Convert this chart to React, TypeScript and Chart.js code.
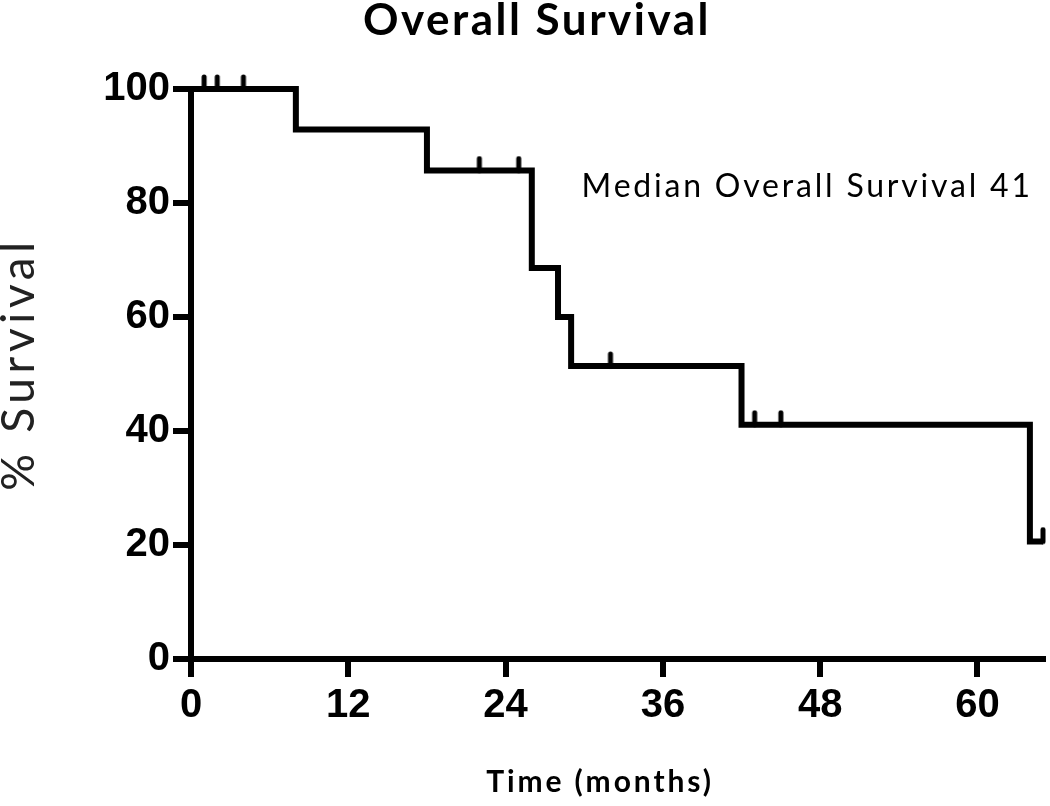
import React, { useEffect, useRef } from "react";
import { Chart, registerables } from "chart.js";

Chart.register(...registerables);

const stepTimes = [0, 8, 18, 26, 28, 29, 42, 64, 65];
const stepSurvival = [100, 92.9, 85.7, 68.6, 60.0, 51.4, 41.1, 20.6, 20.6];
const censorTimes = [1, 2, 4, 22, 25, 32, 43, 45, 65];
const censorSurvival = [100, 100, 100, 85.7, 85.7, 51.4, 41.1, 41.1, 20.6];
const xTickValues = [0, 12, 24, 36, 48, 60];
const yTickValues = [0, 20, 40, 60, 80, 100];

const titleText = "Overall Survival";
const annotationText = "Median Overall Survival 41";
const xTitleText = "Time (months)";
const yTitleText = "% Survival";

export default function App() {
  const ref = useRef<HTMLCanvasElement | null>(null);

  useEffect(() => {
    document.body.style.margin = "0";
    const canvas = ref.current;
    if (!canvas) return;

    const mark = document.createElement("canvas");
    mark.width = 8;
    mark.height = 30;
    const mctx = mark.getContext("2d")!;
    mctx.strokeStyle = "#000";
    mctx.lineWidth = 5;
    mctx.lineCap = "round";
    mctx.beginPath();
    mctx.moveTo(4, 3);
    mctx.lineTo(4, 15);
    mctx.stroke();

    const textPlugin = {
      id: "texts",
      afterDraw(chart: any) {
        const ctx = chart.ctx;
        const xs = chart.scales.x;
        const ys = chart.scales.y;
        ctx.save();
        ctx.fillStyle = "#000";
        ctx.textBaseline = "alphabetic";
        // title
        ctx.font = "bold 44px Lato";
        ctx.letterSpacing = "2.5px";
        ctx.textAlign = "center";
        ctx.fillText(titleText, 537, 35);
        // annotation
        ctx.font = "32px Lato";
        ctx.letterSpacing = "2.8px";
        ctx.textAlign = "left";
        ctx.fillText(annotationText, xs.getPixelForValue(29.8), ys.getPixelForValue(81));
        // x title
        ctx.font = "bold 30px Lato";
        ctx.letterSpacing = "2.9px";
        ctx.textAlign = "center";
        ctx.fillText(xTitleText, 600, 792);
        // y title
        ctx.save();
        ctx.translate(34, 364);
        ctx.rotate(-Math.PI / 2);
        ctx.font = "46px Lato";
        ctx.letterSpacing = "4.6px";
        ctx.fillStyle = "#222";
        ctx.textAlign = "center";
        ctx.fillText(yTitleText, 0, 0);
        ctx.restore();
        ctx.restore();
      },
    };

    const tickFont = { family: "'Liberation Sans', Arial, sans-serif", weight: "bold" as const, size: 40 };

    const chart = new Chart(canvas, {
      type: "line",
      data: {
        datasets: [
          {
            label: "Survival",
            data: stepTimes.map((t, i) => ({ x: t, y: stepSurvival[i] })),
            borderColor: "#000",
            borderWidth: 6,
            stepped: true,
            pointRadius: 0,
            fill: false,
            borderJoinStyle: "miter",
            borderCapStyle: "butt",
            clip: false as any,
          },
          {
            label: "Censored",
            type: "scatter" as any,
            data: censorTimes.map((t, i) => ({ x: t, y: censorSurvival[i] })),
            pointStyle: mark as any,
            pointRadius: 6,
            showLine: false,
            clip: false as any,
          },
        ],
      },
      options: {
        animation: false,
        responsive: false,
        maintainAspectRatio: false,
        layout: { padding: { top: 89, right: 3, left: 0, bottom: 0 } },
        plugins: { legend: { display: false }, title: { display: false }, tooltip: { enabled: false } },
        scales: {
          x: {
            type: "linear",
            min: 0,
            max: 65,
            afterBuildTicks: (s: any) => {
              s.ticks = xTickValues.map((v) => ({ value: v }));
            },
            afterFit: (s: any) => {
              s.height = 147;
            },
            ticks: { font: tickFont, color: "#000", padding: 5, maxRotation: 0, autoSkip: false },
            grid: { drawOnChartArea: false, drawTicks: true, tickLength: 18, lineWidth: 6, color: "#000" },
            border: { display: true, width: 6, color: "#000" },
          },
          y: {
            type: "linear",
            min: 0,
            max: 100,
            afterBuildTicks: (s: any) => {
              s.ticks = yTickValues.map((v) => ({ value: v }));
            },
            afterFit: (s: any) => {
              s.width = 191;
            },
            ticks: { font: tickFont, color: "#000", padding: 3, autoSkip: false },
            grid: { drawOnChartArea: false, drawTicks: true, tickLength: 18, lineWidth: 6, color: "#000" },
            border: { display: true, width: 6, color: "#000" },
          },
        },
      },
      plugins: [textPlugin],
    });

    return () => chart.destroy();
  }, []);

  return (
    <div style={{ width: 1050, height: 806, position: "relative", background: "#fff" }}>
      <canvas ref={ref} width={1050} height={806} />
    </div>
  );
}
